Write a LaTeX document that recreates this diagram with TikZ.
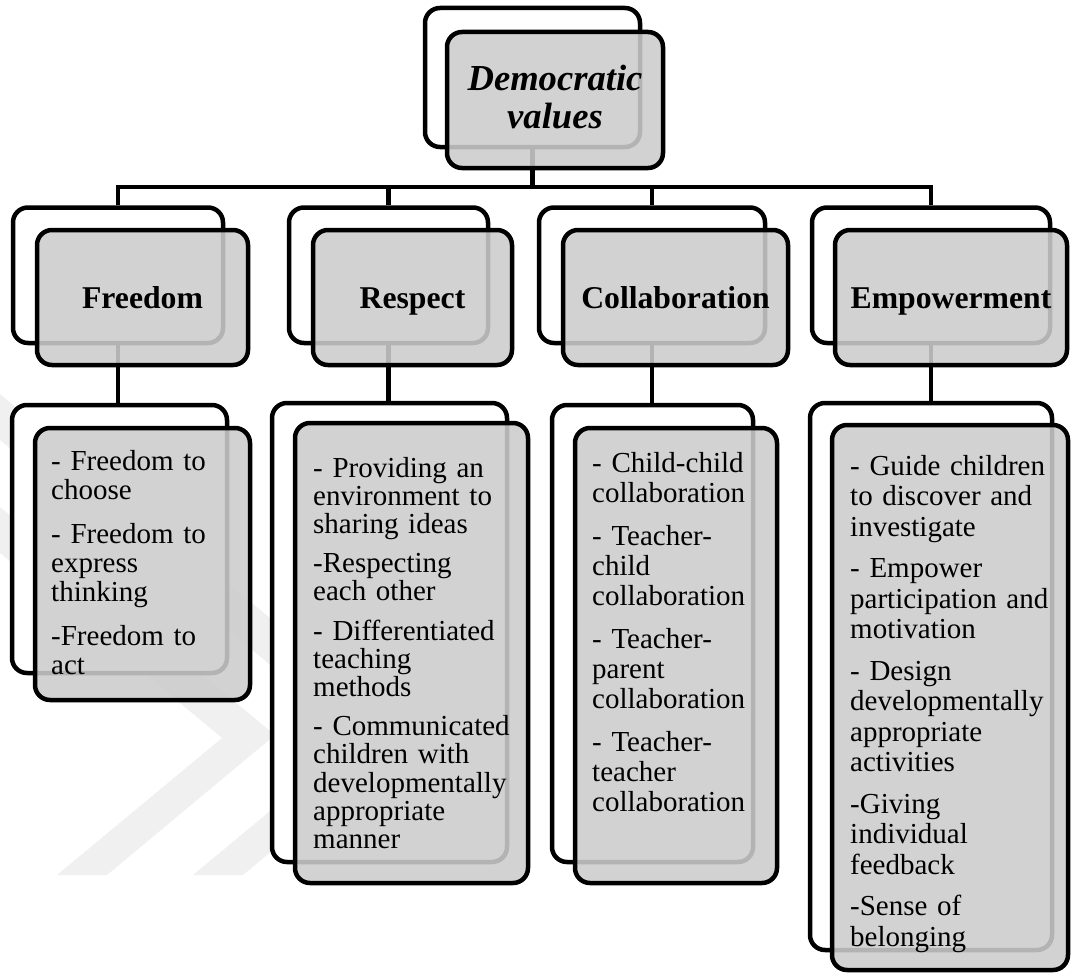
\documentclass[tikz,border=0pt]{standalone}
\usepackage{fontspec}
\setmainfont{Liberation Serif}
\definecolor{boxgray}{gray}{0.80}
\definecolor{markgray}{gray}{0.94}
\begin{document}
\begin{tikzpicture}[x=1pt,y=-1pt,
  box/.style={rectangle, rounded corners=15pt, line width=4.5pt, draw=black, inner sep=0pt},
  backbox/.style={box, fill=white},
  frontbox/.style={box, fill=boxgray, fill opacity=0.88, text opacity=1, draw opacity=1},
  link/.style={line width=4.5pt, draw=black},
  head/.style={font=\fontsize{31.7}{34}\selectfont\bfseries, text height=21pt, text depth=0pt},
  item/.style={font=\fontsize{29}{#1}\selectfont, align=left, text width=250pt,
               inner sep=0pt, anchor=base west}
]
\useasboundingbox (0,0) rectangle (1071,974);

% ---------- faint chevrons in the background ----------
\fill[markgray] (0,507) -- (275,735) -- (107,875) -- (57,875) -- (222,738) -- (0,553) -- cycle;
\fill[markgray] (0,394) -- (411,735) -- (243,875) -- (193,875) -- (358,738) -- (0,440) -- cycle;

% ---------- back boxes ----------
\node[backbox, minimum width=215pt, minimum height=139pt] (dvB) at (532.5,77.5) {};
\node[backbox, minimum width=210pt, minimum height=135.5pt] (frB) at (118,275.25) {};
\node[backbox, minimum width=199pt, minimum height=135.5pt] (reB) at (388.5,275.25) {};
\node[backbox, minimum width=226pt, minimum height=135.5pt] (coB) at (652,275.25) {};
\node[backbox, minimum width=238pt, minimum height=135.5pt] (emB) at (931,275.25) {};
\node[backbox, minimum width=215pt, minimum height=268pt] (frsB) at (119.5,539) {};
\node[backbox, minimum width=235pt, minimum height=459pt] (resB) at (389.5,632.5) {};
\node[backbox, minimum width=201pt, minimum height=457pt] (cosB) at (652.5,633.5) {};
\node[backbox, minimum width=242pt, minimum height=547pt] (emsB) at (931,676.5) {};

% ---------- connectors ----------
\coordinate (bus) at (532.5,187);
\draw[link] (dvB.south) -- (bus);
\draw[link] (frB.north) -- (frB.north |- bus) -- (emB.north |- bus) -- (emB.north);
\draw[link] (reB.north) -- (reB.north |- bus);
\draw[link] (coB.north) -- (coB.north |- bus);
\draw[link] (frB.south) -- (frB.south |- frsB.north);
\draw[link] (reB.south) -- (reB.south |- resB.north);
\draw[link] (coB.south) -- (coB.south |- cosB.north);
\draw[link] (emB.south) -- (emB.south |- emsB.north);

% ---------- front boxes ----------
\node[frontbox, minimum width=216pt, minimum height=136pt, align=center,
      text height=63pt, text depth=7pt,
      font=\fontsize{36.6}{38}\selectfont\bfseries\itshape] (dvF) at (555,100) {Democratic\\values};
\node[frontbox, head, minimum width=211pt, minimum height=135pt] (frF) at (142.5,297.5) {Freedom};
\node[frontbox, head, minimum width=199pt, minimum height=135pt] (reF) at (412.5,297.5) {Respect};
\node[frontbox, head, minimum width=225pt, minimum height=135pt] (coF) at (675.5,297.5) {Collaboration};
\node[frontbox, head, minimum width=232pt, minimum height=135pt] (emF) at (951,297.5) {Empowerment};
\node[frontbox, minimum width=215pt, minimum height=272pt] (frsF) at (142.5,564) {};
\node[frontbox, minimum width=233pt, minimum height=460pt] (resF) at (411.5,653) {};
\node[frontbox, minimum width=202pt, minimum height=455pt] (cosF) at (676,655.5) {};
\node[frontbox, minimum width=236pt, minimum height=545pt] (emsF) at (950,697.5) {};

% ---------- item lists ----------
\node[item=29] (frsT) at (51,470)
  {- Freedom to\\choose\\[15pt]- Freedom to\\express\\thinking\\[15pt]-Freedom to\\act};
\node[item=28.2] (resT) at (313,477)
  {- Providing an\\environment to\\sharing ideas\\[11pt]-Respecting\\each other\\[11pt]%
   - Differentiated\\teaching\\methods\\[11pt]- Communicated\\children with\\developmentally\\appropriate\\manner};
\node[item=30] (cosT) at (592,472)
  {- Child-child\\collaboration\\[13pt]- Teacher-\\child\\collaboration\\[13pt]%
   - Teacher-\\parent\\collaboration\\[13pt]- Teacher-\\teacher\\collaboration};
\node[item=30.5] (emsT) at (850,475)
  {- Guide children\\to discover and\\investigate\\[11pt]- Empower\\participation and\\motivation\\[11pt]%
   - Design\\developmentally\\appropriate\\activities\\[11pt]-Giving\\individual\\feedback\\[11pt]-Sense of\\belonging};
\end{tikzpicture}
\end{document}
